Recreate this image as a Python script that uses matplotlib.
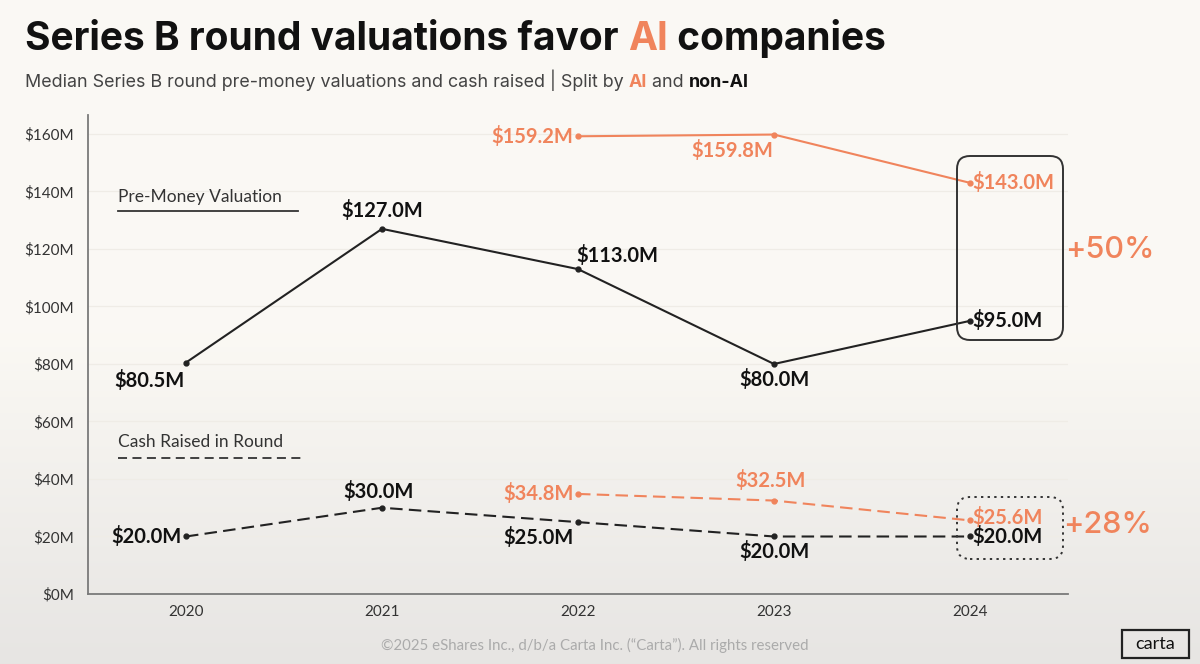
import matplotlib
matplotlib.use("Agg")
import matplotlib.pyplot as plt
import numpy as np
from matplotlib.patches import FancyBboxPatch, Rectangle
from matplotlib.transforms import IdentityTransform

plt.rcParams['font.family'] = ['Lato', 'DejaVu Sans']
HEAD = ['Inter', 'Lato', 'DejaVu Sans']

# ---- data ----
years = [2020, 2021, 2022, 2023, 2024]
ai_years = [2022, 2023, 2024]
nonai_valuation = [80.5, 127.0, 113.0, 80.0, 95.0]
ai_valuation = [159.2, 159.8, 143.0]
nonai_cash = [20.0, 30.0, 25.0, 20.0, 20.0]
ai_cash = [34.8, 32.5, 25.6]
y_ticks = [0, 20, 40, 60, 80, 100, 120, 140, 160]
y_tick_labels = ["$0M", "$20M", "$40M", "$60M", "$80M", "$100M", "$120M", "$140M", "$160M"]
val_uplift = "+50%"
cash_uplift = "+28%"

ORANGE = "#F0845C"
BLACK = "#111111"

W, H = 1200, 664
fig = plt.figure(figsize=(W / 100, H / 100), dpi=100)

# background gradient
bg = fig.add_axes([0, 0, 1, 1], zorder=-10)
rows = np.linspace(0, 1, H)
top = np.array([0.984, 0.976, 0.957])
bot = np.array([0.905, 0.898, 0.890])
t = np.clip((rows - 0.5) / 0.5, 0, 1)
grad = top[None, :] * (1 - t[:, None]) + bot[None, :] * t[:, None]
img = np.repeat(grad[:, None, :], 10, axis=1)
bg.imshow(img, aspect='auto', extent=[0, 1, 1, 0])
bg.axis('off')

ax = fig.add_axes([88 / W, 1 - 594 / H, (1068 - 88) / W, (594 - 115) / H])
ax.set_facecolor('none')
ax.set_xlim(2019.5, 2024.5)
ax.set_ylim(0, 166.6)

for s in ['top', 'right']:
    ax.spines[s].set_visible(False)
for s in ['left', 'bottom']:
    ax.spines[s].set_color('#7a7a7a')
    ax.spines[s].set_linewidth(1.3)
ax.set_yticks(y_ticks)
ax.set_yticklabels(y_tick_labels)
ax.set_xticks(years)
ax.set_xticklabels([str(y) for y in years])
ax.tick_params(length=0, labelsize=11, colors='#333333', pad=8)
ax.tick_params(axis='y', pad=10)
ax.grid(axis='y', color='#efece6', linewidth=0.9)
ax.set_axisbelow(True)

# lines
ax.plot(years, nonai_valuation, color='#222222', lw=1.5, marker='o', ms=3.5, zorder=3)
ax.plot(ai_years, ai_valuation, color=ORANGE, lw=1.5, marker='o', ms=3.5, zorder=3)
ax.plot(years, nonai_cash, color='#222222', lw=1.5, ls=(0, (6, 3)), marker='o', ms=3.5, zorder=3)
ax.plot(ai_years, ai_cash, color=ORANGE, lw=1.5, ls=(0, (6, 3)), marker='o', ms=3.5, zorder=3)

LBL = dict(fontsize=14.5, fontweight='bold', textcoords='offset pixels', va='center', zorder=5)

def lab(x, y, dx, dy, ha, color):
    ax.annotate(f"${y:.1f}M", (x, y), xytext=(dx, dy), ha=ha, color=color, **LBL)

nv_off = [(-37, -18, 'center'), (0, 18, 'center'), (-2, 14, 'left'), (0, -16, 'center'), (2, 0, 'left')]
for x, y, (dx, dy, ha) in zip(years, nonai_valuation, nv_off):
    lab(x, y, dx, dy, ha, BLACK)
av_off = [(-5, 0, 'right'), (-42, -16, 'center'), (2, 0, 'left')]
for x, y, (dx, dy, ha) in zip(ai_years, ai_valuation, av_off):
    lab(x, y, dx, dy, ha, ORANGE)
nc_off = [(-4, 0, 'right'), (-3, 16, 'center'), (-40, -15, 'center'), (0, -15, 'center'), (2, 0, 'left')]
for x, y, (dx, dy, ha) in zip(years, nonai_cash, nc_off):
    lab(x, y, dx, dy, ha, BLACK)
ac_off = [(-4, 0, 'right'), (-3, 20, 'center'), (2, 3, 'left')]
for x, y, (dx, dy, ha) in zip(ai_years, ai_cash, ac_off):
    lab(x, y, dx, dy, ha, ORANGE)

# legend-like labels
ax.text(2019.653, 138.1, "Pre-Money Valuation", fontsize=12.5, color='#333333', va='center', ha='left')
ax.plot([2019.653, 2020.571], [133.2, 133.2], color='#333333', lw=1.3)
ax.text(2019.653, 52.9, "Cash Raised in Round", fontsize=12.5, color='#333333', va='center', ha='left')
ax.plot([2019.653, 2020.602], [47.3, 47.3], color='#333333', lw=1.3, ls=(0, (5, 3)))

# highlight boxes (pixel coords)
def pbox(x0, y0, x1, y1, ls):
    p = FancyBboxPatch((x0, H - y1), x1 - x0, y1 - y0,
                       boxstyle="round,pad=0,rounding_size=13",
                       transform=IdentityTransform(), fill=False,
                       edgecolor='#333333', lw=1.4, ls=ls, zorder=6)
    fig.patches.append(p)

pbox(957, 156, 1063, 340, '-')
pbox(957, 497, 1063, 559, (0, (1.2, 2.2)))

fig.text(1110 / W, 1 - 250 / H, val_uplift, fontsize=22, color=ORANGE, ha='center', va='center',
         fontweight='medium', family=HEAD)
fig.text(1108 / W, 1 - 525 / H, cash_uplift, fontsize=22, color=ORANGE, ha='center', va='center',
         fontweight='medium', family=HEAD)

renderer = fig.canvas.get_renderer()

def seq_text(x_px, y_px, parts, fs):
    x = x_px
    for s, col, wt in parts:
        tt = fig.text(x / W, 1 - y_px / H, s, fontsize=fs, color=col, fontweight=wt,
                      va='baseline', ha='left', family=HEAD)
        bb = tt.get_window_extent(renderer=renderer)
        x = bb.x1

seq_text(25, 50, [("Series B round valuations favor ", BLACK, 'bold'),
                  ("AI", ORANGE, 'bold'),
                  (" companies", BLACK, 'bold')], 28)
seq_text(25, 87, [("Median Series B round pre-money valuations and cash raised | Split by ", '#444444', 'normal'),
                  ("AI", ORANGE, 'bold'),
                  (" and ", '#444444', 'normal'),
                  ("non-AI", BLACK, 'bold')], 12.9)

# footer
fig.text(595 / W, 1 - 645 / H, "©2025 eShares Inc., d/b/a Carta Inc. (\u201cCarta\u201d). All rights reserved",
         fontsize=10.8, color='#ababab', ha='center', va='center')
fig.patches.append(Rectangle((1122, H - 658), 67, 28, transform=IdentityTransform(),
                             fill=False, edgecolor='#222222', lw=1.6))
fig.text(1155.5 / W, 1 - 644 / H, "carta", fontsize=13, color='#111111', ha='center', va='center')

fig.savefig("out.png", dpi=100)
